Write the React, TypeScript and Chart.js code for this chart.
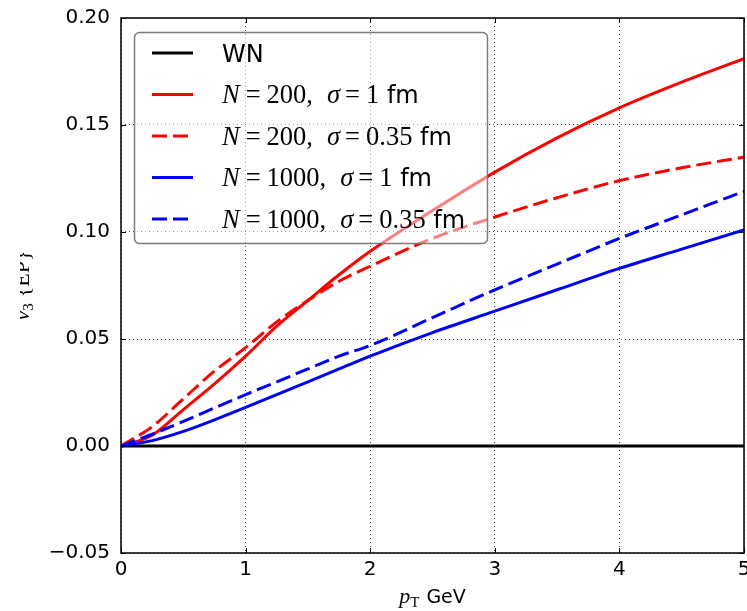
import React, { useEffect, useRef } from 'react';
import { Chart, registerables } from 'chart.js';

Chart.register(...registerables);

// ---------- data ----------
const PT = [0, 0.25, 0.5, 0.75, 1, 1.25, 1.5, 1.75, 2, 2.5, 3, 3.5, 4, 4.5, 5];
const WN = [0, 0, 0, 0, 0, 0, 0, 0, 0, 0, 0, 0, 0, 0, 0];
const N200_S1 = [0, 0.005, 0.017, 0.029, 0.042, 0.056, 0.068, 0.08, 0.091, 0.11, 0.128, 0.144, 0.158, 0.17, 0.181];
const N200_S035 = [0, 0.009, 0.022, 0.035, 0.046, 0.058, 0.068, 0.077, 0.084, 0.097, 0.107, 0.116, 0.124, 0.13, 0.135];
const N1000_S1 = [0, 0.0025, 0.0068, 0.0122, 0.018, 0.024, 0.03, 0.036, 0.042, 0.053, 0.063, 0.073, 0.083, 0.092, 0.101];
const N1000_S035 = [0, 0.0055, 0.0115, 0.0178, 0.024, 0.03, 0.036, 0.042, 0.047, 0.06, 0.073, 0.085, 0.097, 0.108, 0.119];

const X_TICKS = [0, 1, 2, 3, 4, 5];
const Y_TICKS = [-0.05, 0, 0.05, 0.1, 0.15, 0.2];

const SERIES_N = ['', '200', '200', '1000', '1000'];
const SERIES_SIGMA = ['', '1', '0.35', '1', '0.35'];
const WN_LABEL = 'WN';
const X_TITLE = { sym: 'p', sub: 'T', unit: 'GeV' };
const Y_TITLE = { sym: 'v', sub: '3', rest: '{EP}' };

// ---------- styles ----------
const SERIF = '"Liberation Serif", "DejaVu Serif", serif';
const SANS = '"DejaVu Sans", sans-serif';
const COLORS = ['#000000', '#ff0000', '#ff0000', '#0000ff', '#0000ff'];
const DASHED = [false, false, true, false, true];
const DASH = [15, 6];

type Seg = { t?: string; font?: string; gap?: number; dy?: number };

function segsWidth(ctx: CanvasRenderingContext2D, segs: Seg[]) {
  let w = 0;
  for (const s of segs) {
    if (s.gap) { w += s.gap; continue; }
    ctx.font = s.font!;
    w += ctx.measureText(s.t!).width;
  }
  return w;
}
function drawSegs(ctx: CanvasRenderingContext2D, segs: Seg[], x: number, y: number) {
  let cx = x;
  for (const s of segs) {
    if (s.gap) { cx += s.gap; continue; }
    ctx.font = s.font!;
    ctx.fillText(s.t!, cx, y + (s.dy || 0));
    cx += ctx.measureText(s.t!).width;
  }
  return cx;
}

function labelSegs(i: number): Seg[] {
  const ms = 26.5;
  if (i === 0) return [{ t: WN_LABEL, font: `24px ${SANS}` }];
  return [
    { t: 'N', font: `italic ${ms}px ${SERIF}` },
    { gap: 6 },
    { t: '=', font: `${ms}px ${SERIF}` },
    { gap: 6 },
    { t: SERIES_N[i] + ',', font: `${ms}px ${SERIF}` },
    { gap: 14 },
    { t: '\u03c3', font: `italic ${ms}px ${SERIF}` },
    { gap: 5 },
    { t: '=', font: `${ms}px ${SERIF}` },
    { gap: 6 },
    { t: SERIES_SIGMA[i], font: `${ms}px ${SERIF}` },
    { t: ' fm', font: `24px ${SANS}` },
  ];
}

const overlay = {
  id: 'overlay',
  afterDraw(chart: any) {
    const { ctx, chartArea: a, scales } = chart;
    ctx.save();
    // frame
    ctx.strokeStyle = '#000';
    ctx.lineWidth = 1.5;
    ctx.setLineDash([]);
    ctx.strokeRect(a.left, a.top, a.right - a.left, a.bottom - a.top);
    // inward ticks on all sides
    ctx.lineWidth = 1;
    const seg = (x1: number, y1: number, x2: number, y2: number) => {
      ctx.beginPath(); ctx.moveTo(x1, y1); ctx.lineTo(x2, y2); ctx.stroke();
    };
    const TL = 5;
    X_TICKS.forEach((v) => {
      const x = Math.round(scales.x.getPixelForValue(v)) + 0.5;
      seg(x, a.bottom, x, a.bottom - TL);
      seg(x, a.top, x, a.top + TL);
    });
    Y_TICKS.forEach((v) => {
      const y = Math.round(scales.y.getPixelForValue(v)) + 0.5;
      seg(a.left, y, a.left + TL, y);
      seg(a.right, y, a.right - TL, y);
    });

    // legend
    const lx = a.left + 13, ly = a.top + 14, lw = 353, lh = 211;
    ctx.beginPath();
    ctx.roundRect(lx + 0.5, ly + 0.5, lw, lh, 5);
    ctx.fillStyle = 'rgba(255,255,255,0.5)';
    ctx.fill();
    ctx.strokeStyle = 'rgba(110,110,110,0.9)';
    ctx.lineWidth = 1.5;
    ctx.stroke();
    for (let i = 0; i < 5; i++) {
      const cy = ly + 21 + i * 41.5;
      ctx.strokeStyle = COLORS[i];
      ctx.lineWidth = 3;
      ctx.setLineDash(DASHED[i] ? [15, 6] : []);
      seg(lx + 18, cy, lx + 59, cy);
      ctx.setLineDash([]);
      ctx.fillStyle = '#000';
      ctx.textBaseline = 'alphabetic';
      ctx.textAlign = 'left';
      drawSegs(ctx, labelSegs(i), lx + 88, cy + 8.5);
    }

    // x title
    const xs: Seg[] = [
      { t: X_TITLE.sym, font: `italic 22px ${SERIF}` },
      { t: X_TITLE.sub, font: `15px ${SERIF}`, dy: 4 },
      { gap: 7 },
      { t: X_TITLE.unit, font: `19px ${SANS}` },
    ];
    ctx.fillStyle = '#000';
    const xw = segsWidth(ctx, xs);
    drawSegs(ctx, xs, (a.left + a.right) / 2 - xw / 2, 603);

    // y title (clipped at left like the reference)
    ctx.save();
    ctx.beginPath();
    ctx.rect(20, 0, 800, 700);
    ctx.clip();
    ctx.translate(29, (a.top + a.bottom) / 2);
    ctx.rotate(-Math.PI / 2);
    const ys: Seg[] = [
      { t: Y_TITLE.sym, font: `italic 22px ${SERIF}` },
      { t: Y_TITLE.sub, font: `15px ${SERIF}`, dy: 4 },
      { gap: 6 },
      { t: Y_TITLE.rest, font: `22px ${SERIF}` },
    ];
    const yw = segsWidth(ctx, ys);
    drawSegs(ctx, ys, -yw / 2, 0);
    ctx.restore();

    ctx.restore();
  },
};

export default function App() {
  const ref = useRef<HTMLCanvasElement>(null);
  useEffect(() => {
    document.body.style.margin = '0';
    const canvas = ref.current!;
    const mk = (ys: number[]) => PT.map((x, i) => ({ x, y: ys[i] }));
    const series = [WN, N200_S1, N200_S035, N1000_S1, N1000_S035];
    const chart = new Chart(canvas, {
      type: 'line',
      data: {
        datasets: series.map((s, i) => ({
          label: String(i),
          data: mk(s),
          borderColor: COLORS[i],
          borderWidth: 3,
          borderDash: DASHED[i] ? DASH : [],
          pointRadius: 0,
          fill: false,
          cubicInterpolationMode: 'monotone' as const,
          order: 4 - i,
        })),
      },
      options: {
        responsive: false,
        animation: false,
        events: [],
        layout: { padding: { top: 18, right: 3, left: 0, bottom: 0 } },
        plugins: { legend: { display: false }, tooltip: { enabled: false } },
        scales: {
          x: {
            type: 'linear',
            min: 0,
            max: 5,
            afterBuildTicks: (s: any) => { s.ticks = X_TICKS.map((v) => ({ value: v })); },
            afterFit: (s: any) => { s.height = 58; s.paddingLeft = 0; s.paddingRight = 0; },
            ticks: {
              font: { family: 'DejaVu Sans', size: 20 },
              color: '#000',
              padding: 5,
              maxRotation: 0,
              callback: (v: any) => String(v),
            },
            grid: { color: 'rgba(0,0,0,0.75)', lineWidth: 1, drawTicks: false },
            border: { display: false, dash: [1, 3] },
          },
          y: {
            type: 'linear',
            min: -0.05,
            max: 0.2,
            afterBuildTicks: (s: any) => { s.ticks = Y_TICKS.map((v) => ({ value: v })); },
            afterFit: (s: any) => { s.width = 121; s.paddingTop = 0; s.paddingBottom = 0; },
            ticks: {
              font: { family: 'DejaVu Sans', size: 20 },
              color: '#000',
              padding: 11,
              callback: (v: any) => {
                const n = Number(v);
                const t = Math.abs(n).toFixed(2);
                return n < -1e-9 ? '\u2212' + t : t;
              },
            },
            grid: { color: 'rgba(0,0,0,0.75)', lineWidth: 1, drawTicks: false },
            border: { display: false, dash: [1, 3] },
          },
        },
      },
      plugins: [overlay],
    } as any);
    return () => chart.destroy();
  }, []);
  return (
    <div style={{ width: 747, height: 611 }}>
      <canvas ref={ref} width={747} height={611} style={{ display: 'block' }} />
    </div>
  );
}
